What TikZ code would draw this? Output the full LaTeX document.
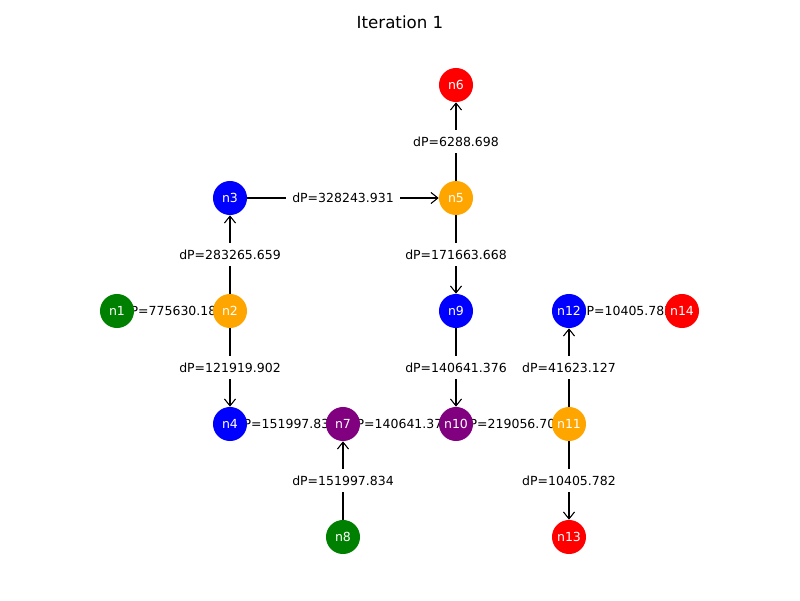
\documentclass[tikz,border=0pt]{standalone}
\usepackage{fontspec}
\setmainfont{DejaVu Sans}
\usetikzlibrary{arrows.meta}
\pgfdeclarelayer{bg}
\pgfsetlayers{bg,main}
\definecolor{mgreen}{HTML}{008000}
\definecolor{morange}{HTML}{FFA500}
\definecolor{mblue}{HTML}{0000FF}
\definecolor{mred}{HTML}{FF0000}
\definecolor{mpurple}{HTML}{800080}
\begin{document}
\begin{tikzpicture}[x=0.72pt,y=-0.72pt,
  nd/.style={circle,minimum size=24.5pt,inner sep=0pt,text=white,font=\fontsize{9}{10}\selectfont},
  lbl/.style={fill=white,inner sep=4.5pt,font=\fontsize{9}{10}\selectfont},
  ed/.style={draw=black,line width=0.75pt,-{Straight Barb[length=5pt,width=8pt]}}
]
\useasboundingbox (0,0) rectangle (800,600);
\node[font=\fontsize{12}{14}\selectfont] (title) at (400,22) {Iteration 1};
\node[nd,fill=mgreen]  (n1)  at (117,311) {n1};
\node[nd,fill=morange] (n2)  at (230,311) {n2};
\node[nd,fill=mblue]   (n3)  at (230,198) {n3};
\node[nd,fill=mblue]   (n4)  at (230,424) {n4};
\node[nd,fill=morange] (n5)  at (456,198) {n5};
\node[nd,fill=mred]    (n6)  at (456,85)  {n6};
\node[nd,fill=mpurple] (n7)  at (343,424) {n7};
\node[nd,fill=mgreen]  (n8)  at (343,537) {n8};
\node[nd,fill=mblue]   (n9)  at (456,311) {n9};
\node[nd,fill=mpurple] (n10) at (456,424) {n10};
\node[nd,fill=morange] (n11) at (569,424) {n11};
\node[nd,fill=mblue]   (n12) at (569,311) {n12};
\node[nd,fill=mred]    (n13) at (569,537) {n13};
\node[nd,fill=mred]    (n14) at (682,311) {n14};
\begin{pgfonlayer}{bg}
\draw[ed] (n1) -- node[lbl]{dP=775630.183} (n2);
\draw[ed] (n2) -- node[lbl]{dP=283265.659} (n3);
\draw[ed] (n2) -- node[lbl]{dP=121919.902} (n4);
\draw[ed] (n3) -- node[lbl]{dP=328243.931} (n5);
\draw[ed] (n5) -- node[lbl]{dP=6288.698} (n6);
\draw[ed] (n5) -- node[lbl]{dP=171663.668} (n9);
\draw[ed] (n9) -- node[lbl]{dP=140641.376} (n10);
\draw[ed] (n4) -- node[lbl]{dP=151997.834} (n7);
\draw[ed] (n8) -- node[lbl]{dP=151997.834} (n7);
\draw[ed] (n7) -- node[lbl]{dP=140641.376} (n10);
\draw[ed] (n10) -- node[lbl]{dP=219056.702} (n11);
\draw[ed] (n11) -- node[lbl]{dP=41623.127} (n12);
\draw[ed] (n11) -- node[lbl]{dP=10405.782} (n13);
\draw[ed] (n12) -- node[lbl]{dP=10405.782} (n14);
\end{pgfonlayer}
\end{tikzpicture}
\end{document}
